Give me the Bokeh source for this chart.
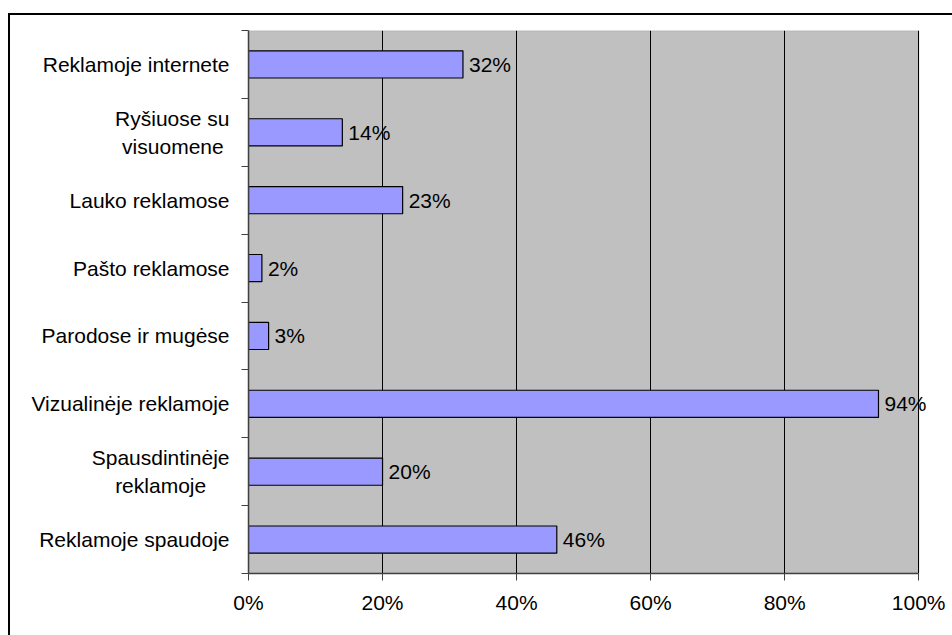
from bokeh.plotting import figure
from bokeh.models import ColumnDataSource, Range1d, FixedTicker, LabelSet, BoxAnnotation
from bokeh.core.properties import value
from bokeh.embed import file_html
from bokeh.resources import INLINE

# Survey shares by advertising channel, top to bottom
categories = [
    "Reklamoje internete",
    "Ryšiuose su\nvisuomene",
    "Lauko reklamose",
    "Pašto reklamose",
    "Parodose ir mugėse",
    "Vizualinėje reklamoje",
    "Spausdintinėje\nreklamoje",
    "Reklamoje spaudoje",
]
values = [32, 14, 23, 2, 3, 94, 20, 46]
x_ticks = [0, 20, 40, 60, 80, 100]
x_tick_labels = ["0%", "20%", "40%", "60%", "80%", "100%"]

FONT = "Liberation Sans"
FS = "21px"
NBSP = "\u00a0"
n = len(categories)
ypos = [n - i - 0.5 for i in range(n)]
x_min, x_max = x_ticks[0], x_ticks[-1]

# Arial-compatible advance widths (1/1000 em) used to centre two-line labels
_ADV = {" ": 278, NBSP: 278, "a": 556, "b": 556, "c": 500, "d": 556, "e": 556,
        "f": 278, "g": 556, "h": 556, "i": 222, "j": 222, "k": 500, "l": 222,
        "m": 833, "n": 556, "o": 556, "p": 556, "r": 333, "s": 500, "t": 278,
        "u": 556, "v": 500, "y": 500, "z": 500, "ė": 556, "š": 500,
        "R": 722, "S": 667, "L": 556, "P": 667, "V": 667}


def text_width(s):
    return sum(_ADV.get(ch, 556) for ch in s)


def centre_lines(label):
    """Pad shorter lines with no-break spaces so that a right-aligned
    multi-line tick label reads as centred."""
    lines = label.split("\n")
    if len(lines) == 1:
        return label
    longest = max(text_width(s) for s in lines)
    out = []
    for s in lines:
        pad = round((longest - text_width(s)) / 2 / _ADV[NBSP])
        out.append(s + NBSP * pad)
    return "\n".join(out)


src = ColumnDataSource(dict(
    y=ypos,
    v=values,
    txt=[f"{v}%" for v in values],
))

# the frame runs a little past 100 % so value labels near the end are not clipped
p = figure(width=944, height=622, output_backend="svg", toolbar_location=None,
           x_range=Range1d(x_min, x_max * 1.04), y_range=Range1d(0, n),
           min_border_left=238, min_border_right=9,
           min_border_top=15, min_border_bottom=64)
# outer chart border
p.margin = (13, 0, 0, 8)
p.styles = {"border-top": "2px solid black", "border-left": "2px solid black"}

p.background_fill_color = "white"
p.border_fill_color = "white"
p.outline_line_color = None

# grey plot area, 0-100 %
p.add_layout(BoxAnnotation(left=x_min, right=x_max, fill_color="#C0C0C0", fill_alpha=1,
                           line_color="#808080", line_width=1.5, level="image"))

# vertical grid lines at each 20 %
p.xgrid.ticker = FixedTicker(ticks=x_ticks)
p.xgrid.grid_line_color = "black"
p.xgrid.grid_line_width = 1
p.xgrid.bounds = (x_min, x_max)
p.ygrid.grid_line_color = None

p.hbar(y="y", right="v", left=0, height=0.4, source=src,
       fill_color="#9999FF", line_color="black", line_width=1.2)

p.add_layout(LabelSet(x="v", y="y", text="txt", source=src, x_offset=6,
                      text_align="left", text_baseline="middle",
                      text_font=value(FONT), text_font_size=value(FS),
                      text_color="black"))

# x axis
xa = p.xaxis[0]
xa.ticker = FixedTicker(ticks=x_ticks)
xa.bounds = (x_min, x_max)
xa.major_label_overrides = {t: s for t, s in zip(x_ticks, x_tick_labels)}
xa.major_label_text_font = FONT
xa.major_label_text_font_size = FS
xa.major_label_text_color = "black"
xa.major_label_standoff = 10
xa.major_tick_out = 7
xa.major_tick_in = 0
xa.minor_tick_line_color = None
xa.axis_line_color = "#404040"
xa.axis_line_width = 1.5
xa.major_tick_line_color = "#404040"

# y axis: labels at category centres, tick marks at category boundaries
ya = p.yaxis[0]
ya.ticker = FixedTicker(ticks=ypos, minor_ticks=list(range(n + 1)))
ya.major_label_overrides = {y: centre_lines(c) for y, c in zip(ypos, categories)}
ya.major_label_text_font = FONT
ya.major_label_text_font_size = FS
ya.major_label_text_color = "black"
ya.major_label_text_line_height = 1.2
ya.major_label_standoff = 12
ya.major_tick_line_color = None
ya.major_tick_out = 0
ya.major_tick_in = 0
ya.minor_tick_out = 7
ya.minor_tick_in = 0
ya.minor_tick_line_color = "#404040"
ya.axis_line_color = "#404040"
ya.axis_line_width = 1.5

open("out.html", "w").write(file_html(p, INLINE))
